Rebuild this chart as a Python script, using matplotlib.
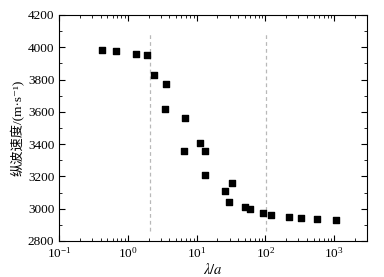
import numpy as np
import matplotlib.pyplot as plt
from matplotlib.ticker import LogLocator, MultipleLocator, LogFormatterMathtext

plt.rcParams['font.family'] = ['Liberation Serif', 'Noto Sans CJK SC']
plt.rcParams['mathtext.fontset'] = 'stix'

# lambda / a
ratio = [0.42, 0.66, 1.29, 1.87, 2.38, 3.52, 3.47, 6.86, 6.63, 11.2, 13.2, 13.0,
         26.1, 32.2, 29.8, 50.8, 60.0, 90.6, 119, 223, 329, 561, 1069]
# longitudinal wave speed, m/s
speed = [3981, 3977, 3957, 3950, 3826, 3771, 3616, 3560, 3358, 3409, 3358, 3207,
         3108, 3159, 3040, 3012, 2998, 2973, 2963, 2947, 2941, 2938, 2930]
vlines_x = [2.08, 102]

fig = plt.figure(figsize=(3.84, 2.77), dpi=100)
ax = fig.add_axes([0.154, 0.130, 0.802, 0.816])

ax.scatter(ratio, speed, marker='s', s=18, color='black', zorder=3)
for xv in vlines_x:
    ax.plot([xv, xv], [2860, 4090], color='#b8b8b8', ls='--', lw=0.9, dashes=(3, 2.5))

ax.set_xscale('log')
ax.set_xlim(0.1, 3000)
ax.set_ylim(2800, 4200)
ax.yaxis.set_major_locator(MultipleLocator(200))
ax.yaxis.set_minor_locator(MultipleLocator(100))
ax.xaxis.set_major_locator(LogLocator(base=10, numticks=10))
ax.xaxis.set_minor_locator(LogLocator(base=10, subs=np.arange(2, 10), numticks=20))
ax.xaxis.set_major_formatter(LogFormatterMathtext())

ax.tick_params(which='both', direction='in', top=True, right=True, labelsize=9.5)
ax.tick_params(which='major', length=4, width=0.8)
ax.tick_params(which='minor', length=2, width=0.6)

ax.set_xlabel(r'$\lambda/a$', fontsize=10.5, labelpad=1)
ax.set_ylabel('纵波速度/(m·s⁻¹)', fontsize=9.5, labelpad=2,
              family=['Liberation Serif', 'Noto Sans CJK SC', 'DejaVu Sans'])

fig.savefig('out.png', dpi=100)
